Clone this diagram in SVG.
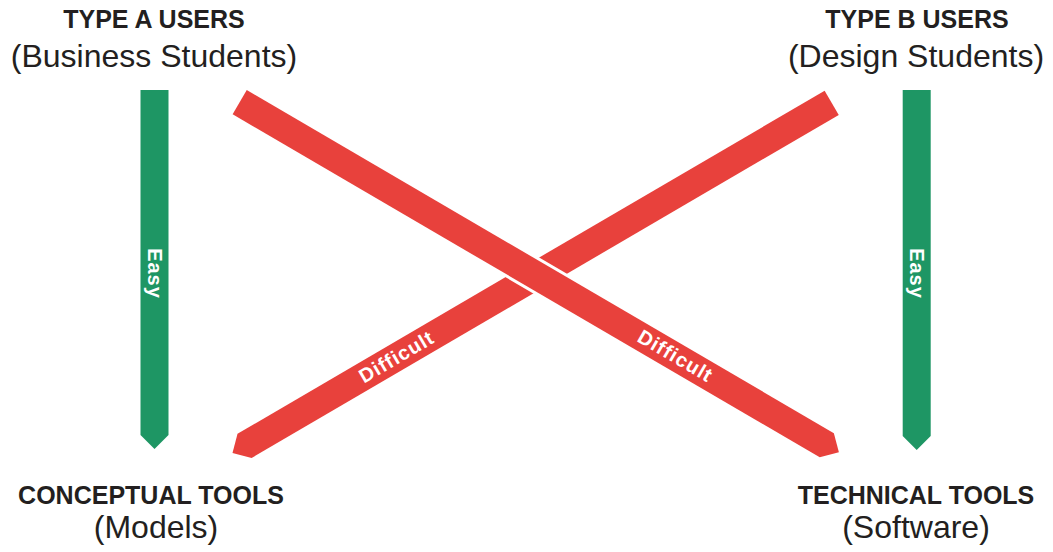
<svg xmlns="http://www.w3.org/2000/svg" xmlns:xlink="http://www.w3.org/1999/xlink" width="1053" height="552" viewBox="0 0 1053 552">
<style>
.title{font-family:"Liberation Sans",Arial,sans-serif;font-weight:bold;font-size:25px;fill:#231f20;text-anchor:middle}
.sub{font-family:"Liberation Sans",Arial,sans-serif;font-size:32px;fill:#231f20;text-anchor:middle}
.lbl{font-family:"Liberation Sans",Arial,sans-serif;font-weight:bold;font-size:20px;fill:#ffffff;text-anchor:middle;letter-spacing:1px}
.green{fill:#1e9664}
.red{fill:#e8413c}
</style>
<defs>
<path id="bar" d="M0,-14 H680 L694,0 L680,14 H0 Z"/>
</defs>
<rect width="1053" height="552" fill="#ffffff"/>
<g id="typeA"><text class="title" x="154" y="28">TYPE A USERS</text><text class="sub" x="154" y="67">(Business Students)</text></g>
<g id="typeB"><text class="title" x="917" y="28">TYPE B USERS</text><text class="sub" x="916" y="67">(Design Students)</text></g>
<g id="conceptual"><text class="title" x="151" y="504">CONCEPTUAL TOOLS</text><text class="sub" x="156" y="538">(Models)</text></g>
<g id="technical"><text class="title" x="916" y="504">TECHNICAL TOOLS</text><text class="sub" x="916" y="538">(Software)</text></g>
<g id="connectors">
<g id="easyA"><path class="green" d="M140.5,90 H168.5 V435 L154.5,449 L140.5,435 Z"/>
<text class="lbl" transform="translate(154.5,273) rotate(90)" x="0.5" y="7">Easy</text></g>
<g id="easyB"><path class="green" d="M902.7,90 H930.7 V436 L916.7,450 L902.7,436 Z"/>
<text class="lbl" transform="translate(916.7,273) rotate(90)" x="0.5" y="7">Easy</text></g>
<g id="difficultB"><use xlink:href="#bar" class="red" transform="translate(831.7,102.8) rotate(149.7)"/>
<text class="lbl" transform="translate(396,357) rotate(-30.3)" x="0.5" y="7">Difficult</text></g>
<g id="difficultA"><use xlink:href="#bar" fill="#ffffff" stroke="#ffffff" stroke-width="6" transform="translate(239.7,102.2) rotate(30.3)"/>
<use xlink:href="#bar" class="red" transform="translate(239.7,102.2) rotate(30.3)"/>
<text class="lbl" transform="translate(675,355.5) rotate(30.3)" x="0.5" y="7">Difficult</text></g>
</g>
</svg>
